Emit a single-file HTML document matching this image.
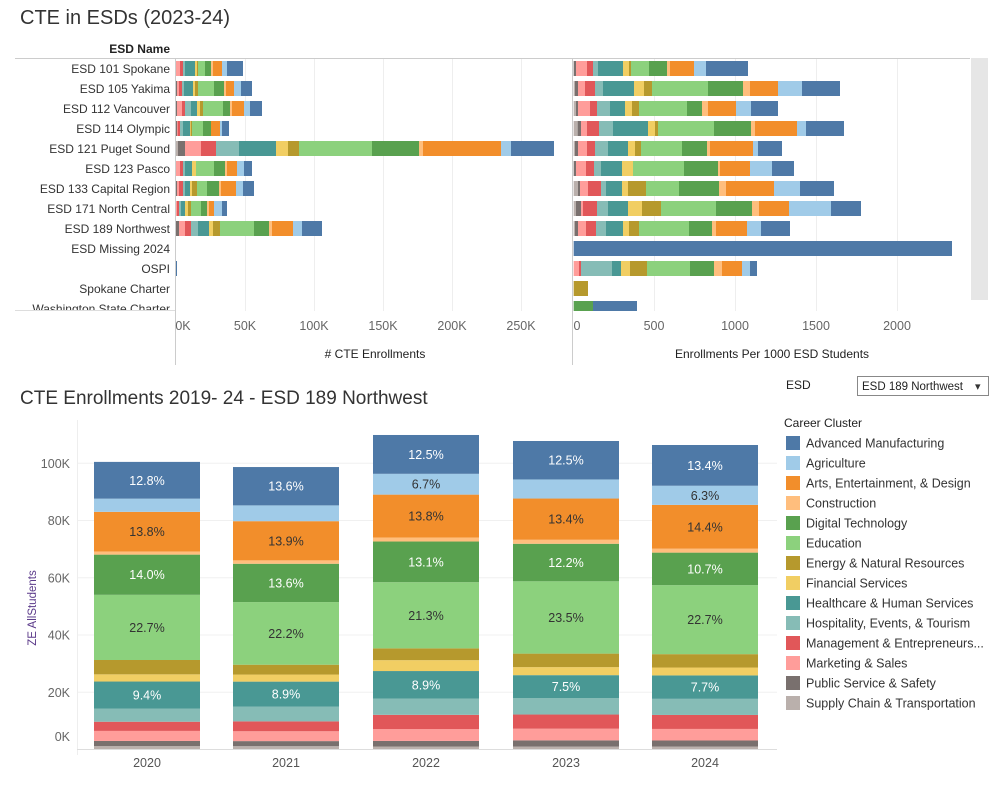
<!DOCTYPE html>
<html><head><meta charset="utf-8"><style>
body{margin:0;background:#fff;font-family:"Liberation Sans",sans-serif;}
svg text{font-family:"Liberation Sans",sans-serif;}
</style></head><body>
<svg id="s" width="1002" height="783" xmlns="http://www.w3.org/2000/svg"></svg>
<script>
const C=['#bab0ac','#79706e','#ff9d9a','#e15759','#86bcb6','#499894','#f1ce63','#b6992d','#8cd17d','#59a14f','#ffbe7d','#f28e2b','#a0cbe8','#4e79a7'];
const N=['Supply Chain & Transportation','Public Service & Safety','Marketing & Sales','Management & Entrepreneurs...','Hospitality, Events, & Tourism','Healthcare & Human Services','Financial Services','Energy & Natural Resources','Education','Digital Technology','Construction','Arts, Entertainment, & Design','Agriculture','Advanced Manufacturing'];
let h='';
const T=(x,y,t,o)=>{o=o||{};h+=`<text x="${x}" y="${y}" font-size="${o.s||12.5}" fill="${o.c||'#333'}" text-anchor="${o.a||'start'}" ${o.w?'font-weight="bold"':''} ${o.tr?'transform="'+o.tr+'"':''}>${t}</text>`;};
const R=(x,y,w,hh,c)=>{if(w>0&&hh>0)h+=`<rect x="${x}" y="${y}" width="${w}" height="${hh}" fill="${c}"/>`;};
T(20,24,'CTE in ESDs (2023-24)',{s:20});
T(170,53,'ESD Name',{s:12,a:'end',c:'#222',w:1});
const labs=['ESD 101 Spokane','ESD 105 Yakima','ESD 112 Vancouver','ESD 114 Olympic','ESD 121 Puget Sound','ESD 123 Pasco','ESD 133 Capital Region','ESD 171 North Central','ESD 189 Northwest','ESD Missing 2024','OSPI','Spokane Charter','Washington State Charter'];
[245,314,383,452,521].forEach(x=>R(x,58,1,253,'#eee'));
[654,735,816,897].forEach(x=>R(x,58,1,253,'#eee'));
const L=[[18,18,30,39,45,75,81,84,105,123,129,156,171,219],[18,21,27,36,42,69,75,84,132,162,168,192,213,246],[18,21,36,45,63,81,90,99,159,180,186,222,240,276],[18,21,23,30,39,60,62,66,99,123,123,150,156,177],[24,45,93,138,207,318,354,387,606,747,759,993,1023,1152],[18,18,30,39,45,66,78,78,132,165,171,201,222,246],[18,21,27,39,45,60,66,81,111,147,153,198,219,252],[18,18,21,27,33,45,54,63,93,111,117,132,156,171],[18,27,45,63,84,117,129,150,252,297,306,369,396,456],null,[18,18,18,18,18,18,18,18,18,18,18,18,18,21],null,null];
const Rr=[[11,18,51,69,84,159,177,183,237,291,300,372,408,534],[15,24,45,75,99,192,222,246,414,519,540,624,696,810],[18,24,60,81,120,165,186,207,351,396,414,498,543,624],[23,33,51,87,129,234,255,264,432,543,555,681,708,822],[15,24,51,75,114,174,195,213,336,411,420,549,564,636],[11,18,48,72,93,156,189,189,342,444,450,540,606,672],[24,30,54,93,108,156,174,228,327,447,468,612,690,792],[18,33,39,81,114,174,216,273,438,546,567,657,783,873],[15,24,48,78,108,159,177,207,357,426,438,531,573,660],[11,11,11,11,11,11,11,11,11,11,11,11,11,1146],[11,11,27,33,126,153,180,231,360,432,456,516,540,561],[11,11,11,11,11,11,11,54,54,54,54,54,54,54],[11,11,11,11,11,11,11,11,11,69,69,69,69,201]];
function bars(arr,ox,st,y){if(!arr)return;let p=st;arr.forEach((e,i)=>{R(ox+p/3,y,(e-p)/3,15,C[i]);p=e;});}
labs.forEach((l,i)=>{const y=61+20*i;
 T(170,y+12,l,{a:'end',s:12});
 bars(L[i],170,18,y);bars(Rr[i],570,11,y);});
R(0,311,570,10,'#fff');R(573,311,400,10,'#fff');
R(15,58,955,1,'#ccc');R(15,310,160,1,'#ddd');
R(175,58,1,307,'#ccc');R(572,58,1,307,'#ccc');
R(971,58,17,242,'#e6e6e6');
[['0K',176],['50K',245],['100K',314],['150K',383],['200K',452],['250K',521]].forEach(([t,x])=>T(x===176?183:x,330,t,{a:'middle',c:'#666'}));
[['0',577],['500',654],['1000',735],['1500',816],['2000',897]].forEach(([t,x])=>T(x,330,t,{a:'middle',c:'#666'}));
T(375,358,'# CTE Enrollments',{a:'middle',s:12,c:'#222'});
T(772,358,'Enrollments Per 1000 ESD Students',{a:'middle',s:12,c:'#222'});
T(20,404,'CTE Enrollments 2019- 24 - ESD 189 Northwest',{s:19});
const y0=749,k=2.8625;
[0,20,40,60,80,100].forEach(v=>{const y=y0-v*k;R(77,y,700,1,'#f0f0f0');T(70,(v?y+5:741),v+'K',{a:'end',c:'#666'});});
R(77,420,1,335,'#eee');R(77,y0,700,1,'#ddd');
T(36,608,'ZE AllStudents',{s:11.5,c:'#5b3a8a',a:'middle',tr:'rotate(-90 36 608)'});
const yrs=[['2020',94,100.3,[1,1.8,3.5,3.2,4.6,9.4,2.5,5,22.7,14.0,1.1,13.8,4.6,12.8],{13:'12.8%',11:'13.8%',9:'14.0%',8:'22.7%',5:'9.4%'}],
['2021',233,98.5,[1,1.8,3.5,3.5,5.2,8.9,2.5,3.5,22.2,13.6,1.2,13.9,5.6,13.6],{13:'13.6%',11:'13.9%',9:'13.6%',8:'22.2%',5:'8.9%'}],
['2022',373,109.7,[0.8,1.8,3.8,4.6,5.2,8.9,3.5,3.8,21.3,13.1,1.3,13.8,6.7,12.5],{13:'12.5%',12:'6.7%',11:'13.8%',9:'13.1%',8:'21.3%',5:'8.9%'}],
['2023',513,107.6,[0.8,2,3.8,4.6,5.3,7.5,2.6,4.4,23.5,12.2,1.3,13.4,6.2,12.5],{13:'12.5%',11:'13.4%',9:'12.2%',8:'23.5%',5:'7.5%'}],
['2024',652,106.2,[0.8,2,3.8,4.6,5.3,7.7,2.6,4.4,22.7,10.7,1.3,14.4,6.3,13.4],{13:'13.4%',12:'6.3%',11:'14.4%',9:'10.7%',8:'22.7%',5:'7.7%'}]];
yrs.forEach(([yr,x,tot,sh,lb])=>{const s=sh.reduce((a,b)=>a+b,0);let y=y0;
 sh.forEach((p,i)=>{const hh=p/s*tot*k;R(x,y-hh,106,hh,C[i]);
  if(lb[i]){const dark=(i==8||i==11||i==12);T(x+53,y-hh/2+4.5,lb[i],{a:'middle',c:dark?'#333':'#fff'});}
  y-=hh;});
 T(x+53,767,yr,{a:'middle',c:'#555'});});
T(786,389,'ESD',{s:12,c:'#222'});
h+=`<rect x="857.5" y="376.5" width="131" height="19" fill="#fff" stroke="#888"/>`;
T(862,390,'ESD 189 Northwest',{s:11.5,c:'#222'});T(975,390,'▾',{s:11,c:'#333'});
T(784,427,'Career Cluster',{s:12,c:'#222'});
for(let i=0;i<14;i++){const c=13-i,y=436+20*i;R(786,y,14,14,C[c]);T(806,y+11.5,N[c],{c:'#333'});}
document.getElementById('s').innerHTML=h;
</script>
</body></html>
